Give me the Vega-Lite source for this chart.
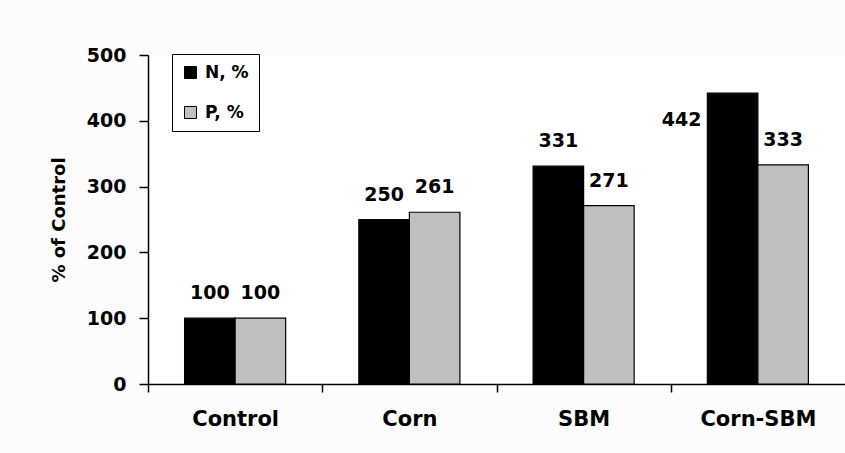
{
  "$schema": "https://vega.github.io/schema/vega-lite/v6.json",
  "width": 697,
  "height": 329,
  "autosize": {"type": "none"},
  "padding": {"left": 148, "top": 55, "right": 0, "bottom": 69},
  "background": "#fcfcfc",
  "config": {
    "font": "DejaVu Sans",
    "view": {"fill": "white", "stroke": null}
  },
  "data": {
    "values": [
      {"diet": "Control", "series": "N, %", "value": 100},
      {"diet": "Control", "series": "P, %", "value": 100},
      {"diet": "Corn", "series": "N, %", "value": 250},
      {"diet": "Corn", "series": "P, %", "value": 261},
      {"diet": "SBM", "series": "N, %", "value": 331},
      {"diet": "SBM", "series": "P, %", "value": 271},
      {"diet": "Corn-SBM", "series": "N, %", "value": 442},
      {"diet": "Corn-SBM", "series": "P, %", "value": 333}
    ]
  },
  "encoding": {
    "x": {
      "field": "diet", "type": "nominal",
      "sort": ["Control", "Corn", "SBM", "Corn-SBM"],
      "scale": {"paddingInner": 0.42, "paddingOuter": 0.21},
      "axis": {
        "title": null, "labelAngle": 0, "ticks": true, "tickOffset": -87, "labelOffset": 87,
        "domainColor": "black", "domainWidth": 1.5, "tickColor": "black", "tickSize": 8, "tickWidth": 1.5,
        "labelFont": "DejaVu Sans", "labelFontWeight": "bold", "labelFontSize": 21,
        "labelColor": "black", "labelPadding": 16
      }
    },
    "xOffset": {"field": "series", "type": "nominal", "scale": {"paddingInner": 0, "paddingOuter": 0}},
    "y": {
      "field": "value", "type": "quantitative",
      "scale": {"domain": [0, 500], "nice": false},
      "axis": {
        "title": "% of Control", "values": [0, 100, 200, 300, 400, 500],
        "grid": false, "domainColor": "black", "domainWidth": 1.5, "tickColor": "black", "tickSize": 9, "tickWidth": 1.5,
        "labelFont": "DejaVu Sans", "labelFontWeight": "bold", "labelFontSize": 19,
        "labelColor": "black", "labelPadding": 13,
        "titleFont": "DejaVu Sans", "titleFontWeight": "bold", "titleFontSize": 18,
        "titleColor": "black", "titlePadding": 18
      }
    }
  },
  "layer": [
    {
      "mark": {"type": "bar", "stroke": "black", "strokeWidth": 1.2},
      "encoding": {
        "fill": {
          "field": "series", "type": "nominal",
          "scale": {"domain": ["N, %", "P, %"], "range": ["#000000", "#c0c0c0"]},
          "legend": {
            "title": null, "orient": "none", "legendX": 24, "legendY": -1,
            "strokeColor": "black", "padding": 10, "rowPadding": 22,
            "symbolType": "square", "symbolSize": 144, "symbolStrokeColor": "black",
            "symbolStrokeWidth": 1,
            "labelFont": "DejaVu Sans", "labelFontWeight": "bold", "labelFontSize": 17,
            "labelColor": "black", "labelOffset": 6
          }
        }
      }
    },
    {
      "transform": [{"filter": "datum.value < 400"}],
      "mark": {"type": "text", "baseline": "alphabetic", "dy": -19, "fontWeight": "bold", "fontSize": 19, "color": "black"},
      "encoding": {"text": {"field": "value", "type": "quantitative"}}
    },
    {
      "transform": [{"filter": "datum.value >= 400"}],
      "mark": {"type": "text", "baseline": "top", "dy": 18, "dx": -51, "fontWeight": "bold", "fontSize": 19, "color": "black"},
      "encoding": {"text": {"field": "value", "type": "quantitative"}}
    }
  ]
}
